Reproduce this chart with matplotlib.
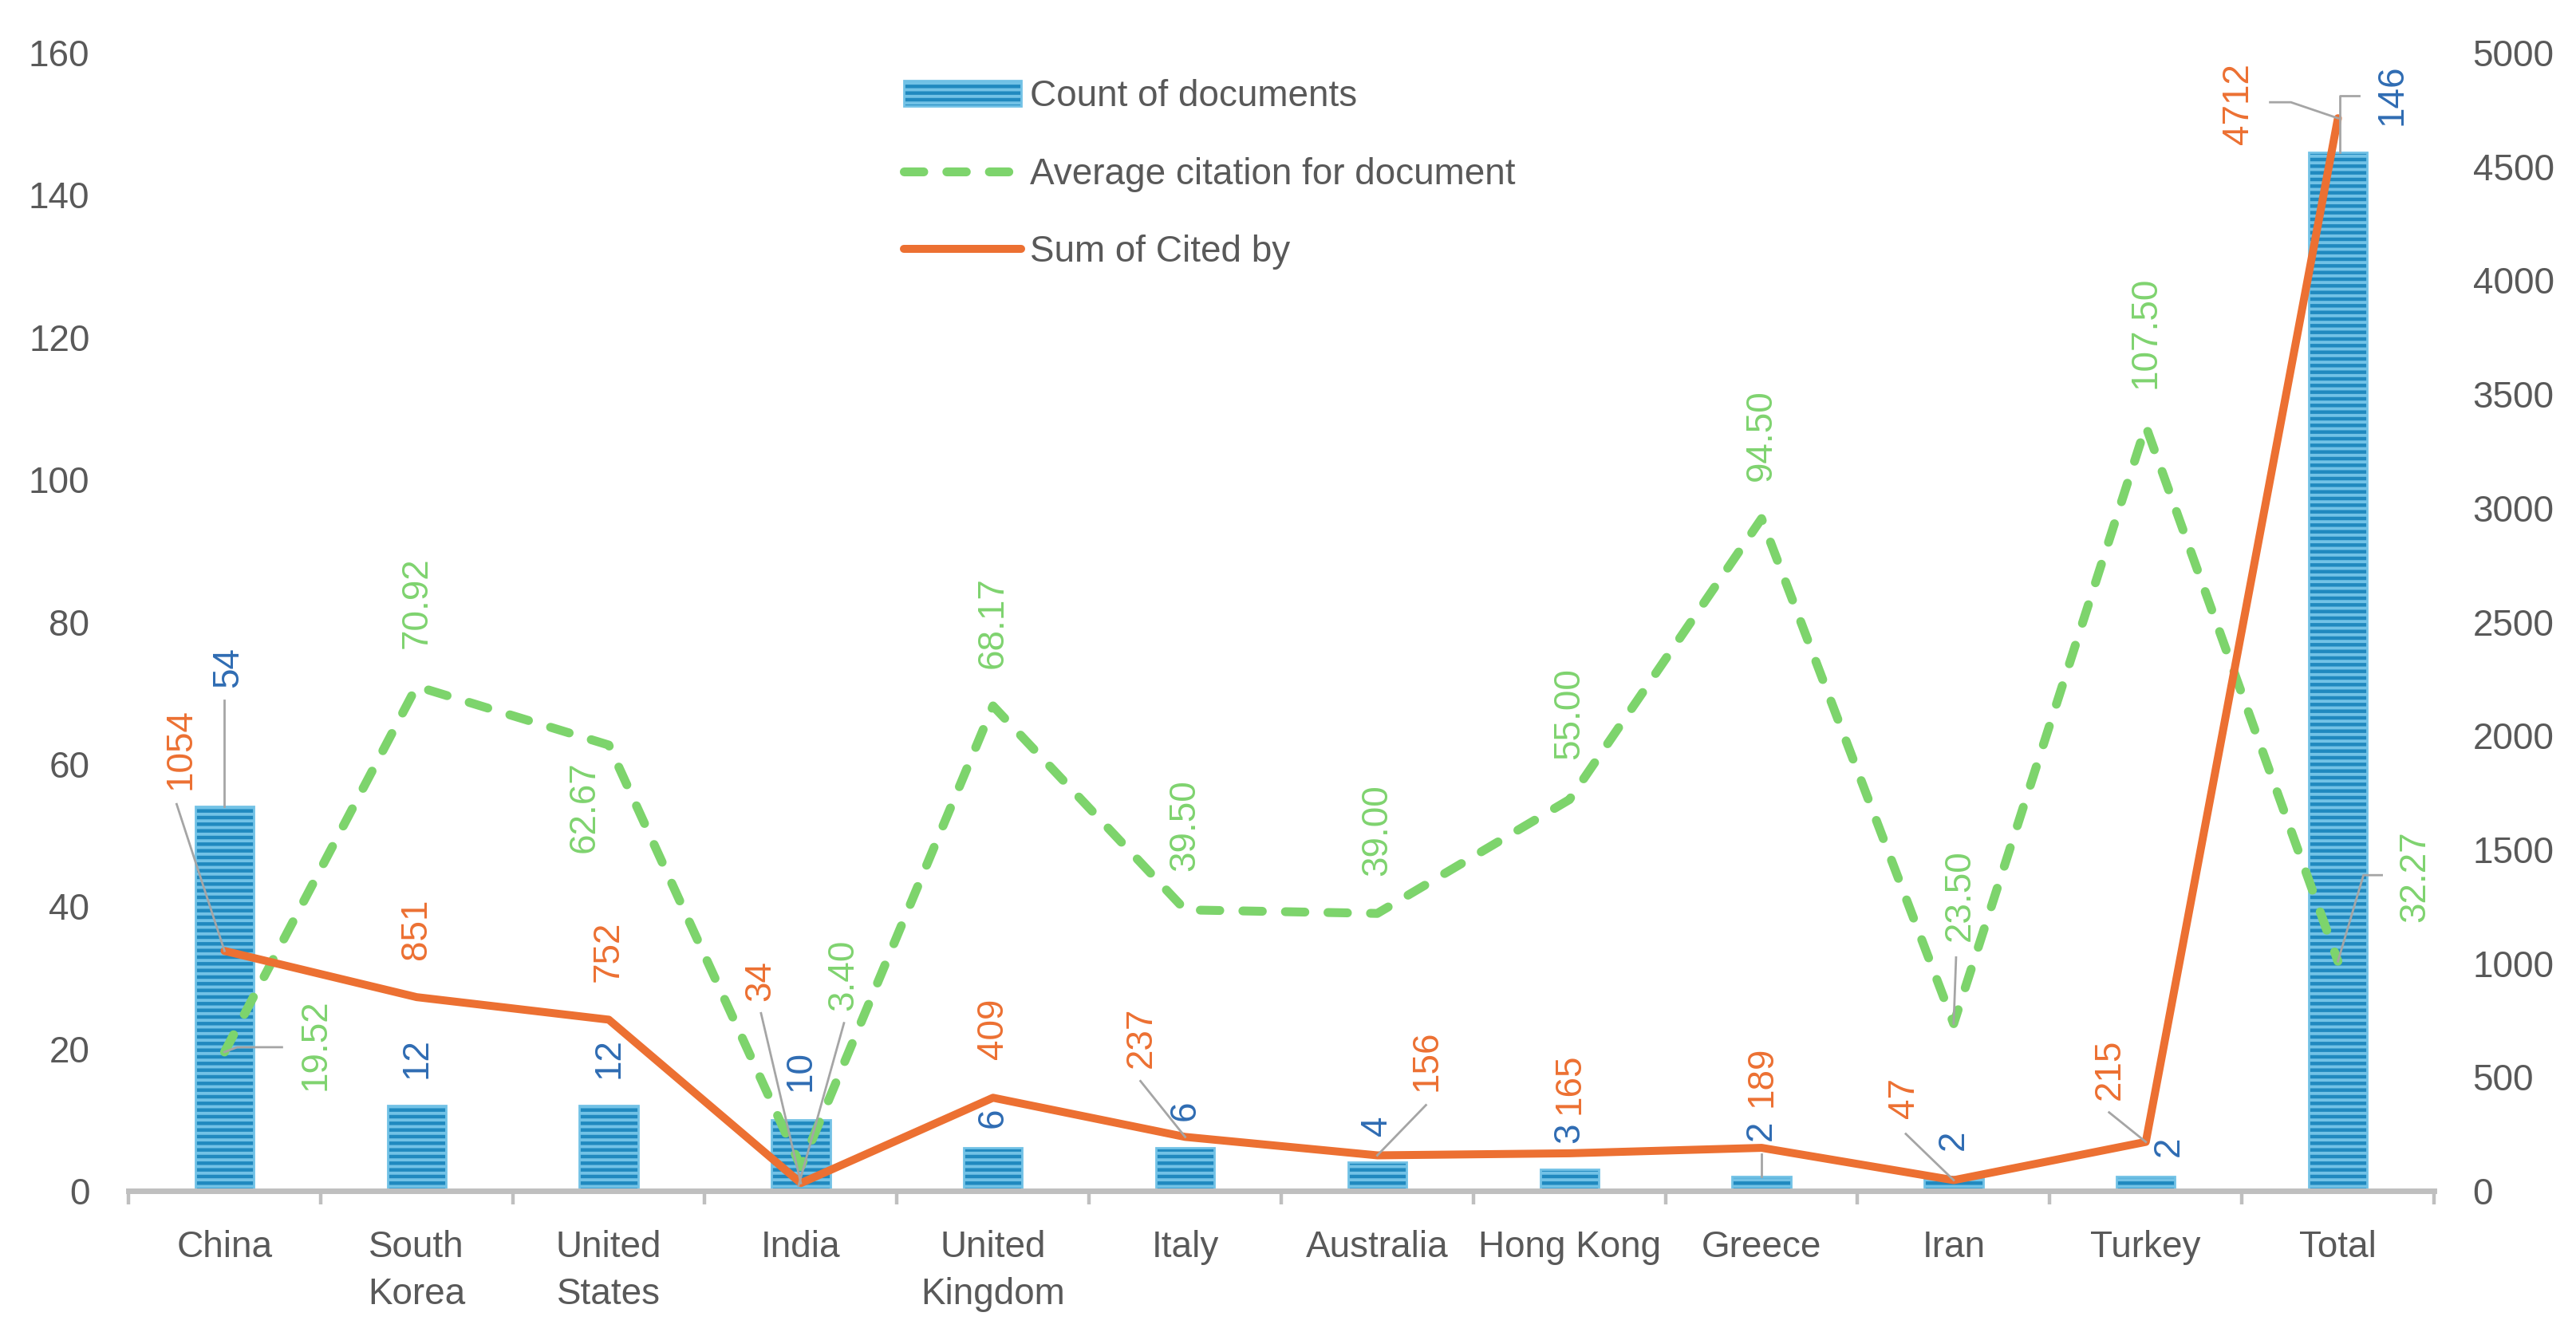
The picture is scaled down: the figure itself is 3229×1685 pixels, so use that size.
import numpy as np
import matplotlib
matplotlib.use("Agg")
import matplotlib.pyplot as plt
from matplotlib.lines import Line2D
from matplotlib.patches import Patch
from matplotlib.transforms import IdentityTransform

# ---------------- data ----------------
countries = ["China", "South Korea", "United States", "India", "United Kingdom", "Italy",
             "Australia", "Hong Kong", "Greece", "Iran", "Turkey", "Total"]
tick_labels = ["China", "South\nKorea", "United\nStates", "India", "United\nKingdom", "Italy",
               "Australia", "Hong Kong", "Greece", "Iran", "Turkey", "Total"]
doc_count = [54, 12, 12, 10, 6, 6, 4, 3, 2, 2, 2, 146]
avg_citation = [19.52, 70.92, 62.67, 3.40, 68.17, 39.50, 39.00, 55.00, 94.50, 23.50, 107.50, 32.27]
sum_cited = [1054, 851, 752, 34, 409, 237, 156, 165, 189, 47, 215, 4712]
left_ticks = [0, 20, 40, 60, 80, 100, 120, 140, 160]
right_ticks = [0, 500, 1000, 1500, 2000, 2500, 3000, 3500, 4000, 4500, 5000]
series_names = ["Count of documents", "Average citation for document", "Sum of Cited by"]

# ---------------- style ----------------
DPI = 200
W, H = 3230, 1685
BAR_FACE = "#2089BF"
BAR_HATCH = "#72C2E6"
BLUE_TXT = "#2F6CB3"
ORANGE = "#EC7032"
GREEN = "#7DD46C"
GREEN_TXT = "#7FD36F"
GREY_TXT = "#595959"
AXIS_GREY = "#BFBFBF"
LEADER = "#A5A5A5"
FS = 16.5

plt.rcParams["font.family"] = ["Liberation Sans", "DejaVu Sans"]
plt.rcParams["hatch.linewidth"] = 1.4

fig = plt.figure(figsize=(W / DPI, H / DPI), dpi=DPI)
left_px, right_px, top_px, bot_px = 161, 3051, 66, 1493
ax = fig.add_axes([left_px / W, 1 - bot_px / H, (right_px - left_px) / W, (bot_px - top_px) / H])
ax2 = ax.twinx()

x = np.arange(len(countries))

ax.bar(x, doc_count, width=0.305, color=BAR_FACE, edgecolor=BAR_HATCH, linewidth=1.0,
       hatch="----", zorder=2)
ax.plot(x, avg_citation, color=GREEN, lw=4, dashes=(2.2, 2.6), dash_capstyle="round",
        solid_joinstyle="round", zorder=3)
ax2.plot(x, sum_cited, color=ORANGE, lw=3.6, solid_joinstyle="round",
         solid_capstyle="round", zorder=3)

ax.set_xlim(-0.5, len(countries) - 0.5)
ax.set_ylim(0, 160)
ax2.set_ylim(0, 5000)

ax.set_yticks(left_ticks)
ax2.set_yticks(right_ticks)
ax.set_xticks(x)
ax.set_xticklabels(tick_labels, linespacing=1.45)
ax.set_xticks(np.arange(-0.5, len(countries), 1.0), minor=True)

ax.tick_params(axis="x", which="major", length=0, pad=17.5, labelsize=FS, labelcolor=GREY_TXT)
ax.tick_params(axis="x", which="minor", length=6, width=1.6, color=AXIS_GREY, direction="out")
ax.tick_params(axis="y", length=0, pad=17.5, labelsize=FS, labelcolor=GREY_TXT)
ax2.tick_params(axis="y", length=0, pad=17.5, labelsize=FS, labelcolor=GREY_TXT)

for s in ["top", "left", "right"]:
    ax.spines[s].set_visible(False)
for s in ax2.spines.values():
    s.set_visible(False)
ax.spines["bottom"].set_color(AXIS_GREY)
ax.spines["bottom"].set_linewidth(2.5)

# ---------------- data labels ----------------
# (dx, dy, mode) in pixels; mode 'b' = bottom of label above point, 'c' = label centre
blue_pos = [(5, 175, "c"), (0, 34, "b"), (0, 34, "b"), (0, 36, "b"), (0, 25, "b"), (0, 34, "b"),
            (0, 33, "b"), (0, 33, "b"), (0, 45, "b"), (0, 33, "b"), (29, 38, "c"), (68, 72, "c")]
orange_pos = [(-55, 253, "c"), (0, 47, "b"), (0, 47, "b"), (-51, 254, "c"), (0, 48, "b"),
              (-55, 125, "c"), (62, 119, "c"), (0, 49, "b"), (0, 51, "b"), (-62, 103, "c"),
              (-45, 91, "c"), (-125, 18, "c")]
green_pos = [(114, 9, "c"), (0, 47, "b"), (-30, -78, "c"), (53, 240, "c"), (0, 47, "b"),
             (0, 49, "b"), (0, 47, "b"), (0, 50, "b"), (0, 47, "b"), (8, 161, "c"),
             (0, 47, "b"), (97, 107, "c")]

# leader lines: series, index, list of vertex offsets (px) relative to point
leaders = [
    ("blue", 0, [(0, 133), (0, 0)]),
    ("blue", 8, [(0, 28), (0, 0)]),
    ("blue", 11, [(26, 71), (2, 71), (2, 0)]),
    ("orange", 0, [(-60, 184), (0, 0)]),
    ("orange", 3, [(-50, 213), (0, 0)]),
    ("orange", 5, [(-56, 70), (0, 0)]),
    ("orange", 6, [(61, 63), (0, 0)]),
    ("orange", 9, [(-60, 58), (0, 0)]),
    ("orange", 10, [(-46, 37), (0, 0)]),
    ("orange", 11, [(-85, 20), (-59, 20), (0, 0)]),
    ("green", 0, [(72, 6), (16, 6), (0, 0)]),
    ("green", 3, [(54, 180), (-3, -24)]),
    ("green", 9, [(3, 83), (0, 0)]),
    ("green", 11, [(55, 108), (32, 108), (0, 0)]),
]


def put(txt, xy, trans, pos, color):
    dx, dy, mode = pos
    ax2.annotate(txt, xy=xy, xycoords=trans, xytext=(dx, dy), textcoords="offset pixels",
                 rotation=90, ha="center", va="bottom" if mode == "b" else "center",
                 color=color, fontsize=FS, zorder=6, annotation_clip=False)


for i in range(len(countries)):
    put(str(doc_count[i]), (x[i], doc_count[i]), ax.transData, blue_pos[i], BLUE_TXT)
    put(str(sum_cited[i]), (x[i], sum_cited[i]), ax2.transData, orange_pos[i], ORANGE)
    put(f"{avg_citation[i]:.2f}", (x[i], avg_citation[i]), ax.transData, green_pos[i], GREEN_TXT)

for series, i, verts in leaders:
    if series == "blue":
        p = ax.transData.transform((x[i], doc_count[i]))
    elif series == "orange":
        p = ax2.transData.transform((x[i], sum_cited[i]))
    else:
        p = ax.transData.transform((x[i], avg_citation[i]))
    xs = [p[0] + v[0] for v in verts]
    ys = [p[1] + v[1] for v in verts]
    fig.add_artist(Line2D(xs, ys, transform=IdentityTransform(), color=LEADER, lw=1.0, zorder=5))

# ---------------- legend ----------------
handles = [
    Patch(facecolor=BAR_FACE, edgecolor=BAR_HATCH, hatch="----", linewidth=1.0),
    Line2D([], [], color=GREEN, lw=4, dashes=(2.2, 2.6), dash_capstyle="round"),
    Line2D([], [], color=ORANGE, lw=3.6, solid_capstyle="round"),
]
leg = ax2.legend(handles, series_names, loc="upper left", bbox_to_anchor=(0.3363, 0.9767),
                 frameon=False, fontsize=FS, handlelength=3.2, handletextpad=0.26,
                 labelspacing=1.17, borderpad=0, borderaxespad=0, labelcolor=GREY_TXT)

fig.savefig("out.png", dpi=DPI, facecolor="white")
